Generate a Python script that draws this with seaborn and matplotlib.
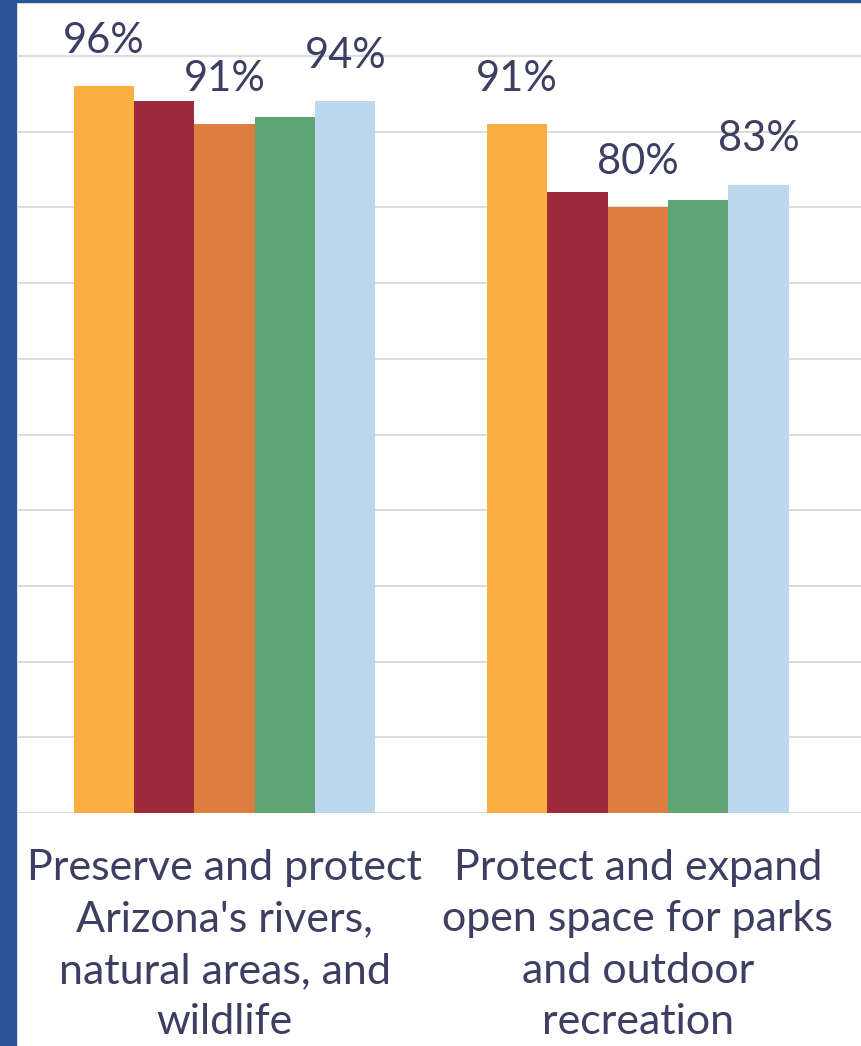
import matplotlib
matplotlib.use("Agg")
import matplotlib.pyplot as plt
import seaborn as sns
import pandas as pd
from matplotlib.patches import Rectangle

# issues (x categories)
issues = [
    "Preserve and protect\nArizona's rivers,\nnatural areas, and\nwildlife",
    "Protect and expand\nopen space for parks\nand outdoor\nrecreation",
]
# respondent segments (hue), no legend shown in the source
segments = ["Segment 1", "Segment 2", "Segment 3", "Segment 4", "Segment 5"]
colors = ["#FBAF41", "#9C2A3A", "#DE7D40", "#5DA673", "#BDD7EE"]

# percent support
pct_rivers = [96, 94, 91, 92, 94]
pct_open_space = [91, 82, 80, 81, 83]

# which segments carry a value label
labelled = [0, 2, 4]

rows = []
for seg, a, b in zip(segments, pct_rivers, pct_open_space):
    rows.append({"issue": issues[0], "segment": seg, "pct": a})
    rows.append({"issue": issues[1], "segment": seg, "pct": b})
df = pd.DataFrame(rows)

sns.set_theme(style="white")
plt.rcParams["font.family"] = ["Lato", "DejaVu Sans"]

W, H = 861, 1046
fig = plt.figure(figsize=(W / 100, H / 100), dpi=100)
ax = fig.add_axes([18 / W, (H - 813) / H, 1 - 18 / W, (813 - 2) / H])

sns.barplot(data=df, x="issue", y="pct", hue="segment", order=issues,
            hue_order=segments, palette=colors, width=0.73, saturation=1,
            errorbar=None, legend=False, linewidth=0, ax=ax, zorder=3)

text_col = "#3C3F62"
for i in labelled:
    ax.bar_label(ax.containers[i], fmt="{:.0f}%", padding=19,
                 fontsize=30, color=text_col)

ax.set_ylim(0, 811 / 7.57)
ax.set_xlim(-0.5, 1.54)
ax.set_yticks(range(0, 101, 10))
ax.set_yticklabels([])
ax.yaxis.grid(True, color="#D9D9D9", linewidth=1.3, zorder=0)
ax.tick_params(axis="x", length=0, pad=26, labelsize=31, labelcolor=text_col)
ax.tick_params(axis="y", length=0)
for lbl in ax.get_xticklabels():
    lbl.set_linespacing(1.43)
ax.set_xlabel("")
ax.set_ylabel("")
sns.despine(ax=ax, left=True, bottom=True, top=True, right=True)

# blue frame edges from the slide
fig.add_artist(Rectangle((0, 0), 16 / W, 1, transform=fig.transFigure,
                         color="#2C5496", zorder=10))
fig.add_artist(Rectangle((0, 1 - 2 / H), 1, 2 / H, transform=fig.transFigure,
                         color="#2C5496", zorder=10))

fig.savefig("out.png", dpi=100)
